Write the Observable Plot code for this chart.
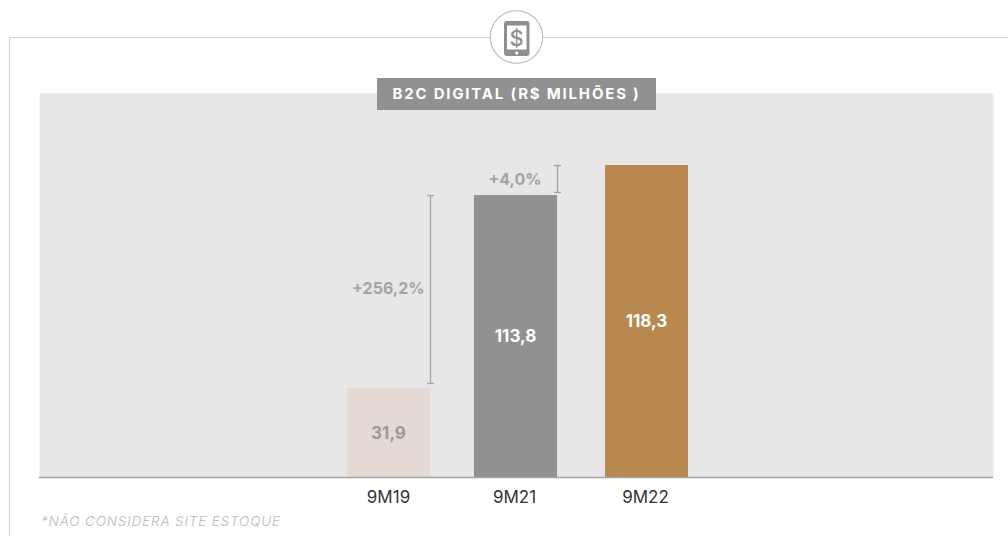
<!DOCTYPE html>
<html lang="pt">
<head>
<meta charset="utf-8">
<script src="https://cdn.jsdelivr.net/npm/d3@7"></script>
<script src="https://cdn.jsdelivr.net/npm/@observablehq/plot@0.6"></script>
<style>
  html,body{margin:0;background:#fff;}
  #page{position:relative;width:1008px;height:536px;overflow:hidden;font-family:Inter,"DejaVu Sans",sans-serif;}
  #deco{position:absolute;left:0;top:0;}
  #chart{position:absolute;left:0;top:93px;}
  #chart svg{display:block;}
  #title{position:absolute;left:377px;top:78px;width:279px;height:32px;background:#919191;color:#fff;
    font-weight:700;font-size:15px;letter-spacing:1.8px;line-height:32px;text-align:center;white-space:pre;}
  #note{position:absolute;left:41px;top:513px;font-style:italic;font-weight:300;font-size:13.5px;color:#b9b9b9;letter-spacing:.85px;}
</style>
</head>
<body>
<div id="page">
  <svg id="deco" width="1008" height="536">
    <path d="M9.5 536V37.5H490M542 37.5H1008" fill="none" stroke="#d2d2d2" stroke-width="1.2"/>
    <circle cx="516.5" cy="37" r="26.2" fill="#fff" stroke="#b9b9b9" stroke-width="1.1"/>
    <rect x="504" y="21" width="25.5" height="35" rx="3" fill="#8f8f8f"/>
    <rect x="507" y="25.5" width="19.5" height="24" fill="#fff"/>
    <circle cx="516.7" cy="53" r="1.6" fill="#fff"/>
    <text x="516.7" y="45.5" text-anchor="middle" font-size="22" font-weight="500" fill="#8f8f8f" font-family="Inter, sans-serif">$</text>
  </svg>
  <div id="chart"></div>
  <div id="title">B2C DIGITAL (R$ MILHÕES )</div>
  <div id="note">*NÃO CONSIDERA SITE ESTOQUE</div>
</div>
<script>
// Category labels and printed values
const periods = ["9M19", "9M21", "9M22"];
const values = [31.9, 113.8, 118.3];
const valueLabels = ["31,9", "113,8", "118,3"];
// The reference's bars are not drawn to scale: these are the heights,
// in units of the tallest bar.
const barHeights = [33.75, 106.9, 118.3];
const barFills = ["#e4d9d3", "#919191", "#b8884e"];
const labelFills = ["#9c9a98", "#ffffff", "#ffffff"];
const labelLevels = [16.8, 53.5, 59];
// Bars in the reference are slightly unevenly spaced
const barNudge = [2, 0, 2];
const tickNudge = [1.5, -1.5, 0.5];

// Growth annotations
const growthLabels = ["+256,2%", "+4,0%"];
const growthPeriods = ["9M19", "9M21"];
const growthLow = [35.65, 108.1];
const growthHigh = [106.9, 118.3];
const growthLevels = [71.7, 113];
const growthLabelShift = [-6, -16];

const rows = periods.map((period, i) => ({period, value: values[i], height: barHeights[i], label: valueLabels[i], fill: barFills[i], labelFill: labelFills[i], level: labelLevels[i]}));
const halfBar = 41.5;
const grey = "#a3a3a3";
const capSymbol = {draw(ctx) { ctx.moveTo(-3.5, 0); ctx.lineTo(3.5, 0); }};

const chart = Plot.plot({
  width: 1008,
  height: 419,
  marginLeft: 39,
  marginRight: 15,
  marginTop: 0,
  marginBottom: 35,
  style: {fontFamily: "Inter, 'DejaVu Sans', sans-serif", background: "transparent"},
  x: {type: "band", domain: periods, range: [345, 686], paddingInner: 0.3566, paddingOuter: 0, label: null},
  y: {domain: [0, 145.6], axis: null},
  marks: [
    Plot.frame({fill: "#e7e7e7", stroke: null}),
    ...rows.map((r, i) => Plot.barY([r], {x: "period", y: "height", fill: "fill", dx: barNudge[i]})),
    Plot.ruleY([0], {stroke: "#a5a5a5", strokeWidth: 1.6}),
    ...rows.map((r, i) => Plot.text([r], {x: "period", y: "level", text: "label", fill: "labelFill", dx: barNudge[i] - 0.5, fontSize: 17, fontWeight: 700})),
    ...growthLabels.flatMap((label, i) => {
      const d = [{period: growthPeriods[i], low: growthLow[i], high: growthHigh[i], level: growthLevels[i], label}];
      const dx = halfBar + barNudge[i];
      return [
        Plot.ruleX(d, {x: "period", y1: "low", y2: "high", stroke: grey, strokeWidth: 1.3, dx}),
        Plot.dot(d, {x: "period", y: "low", symbol: capSymbol, stroke: grey, strokeWidth: 1.3, dx}),
        Plot.dot(d, {x: "period", y: "high", symbol: capSymbol, stroke: grey, strokeWidth: 1.3, dx}),
        Plot.text(d, {x: "period", y: "level", text: "label", textAnchor: "end", fill: "#a3a3a3", fontSize: 16, fontWeight: 700, dx: dx + growthLabelShift[i]})
      ];
    }),
    ...periods.map((p, i) => Plot.axisX([p], {tickSize: 0, dx: tickNudge[i], dy: 7, fontSize: 17, fill: "#333", label: null, tickPadding: 6}))
  ]
});
document.getElementById("chart").append(chart);
</script>
</body>
</html>
